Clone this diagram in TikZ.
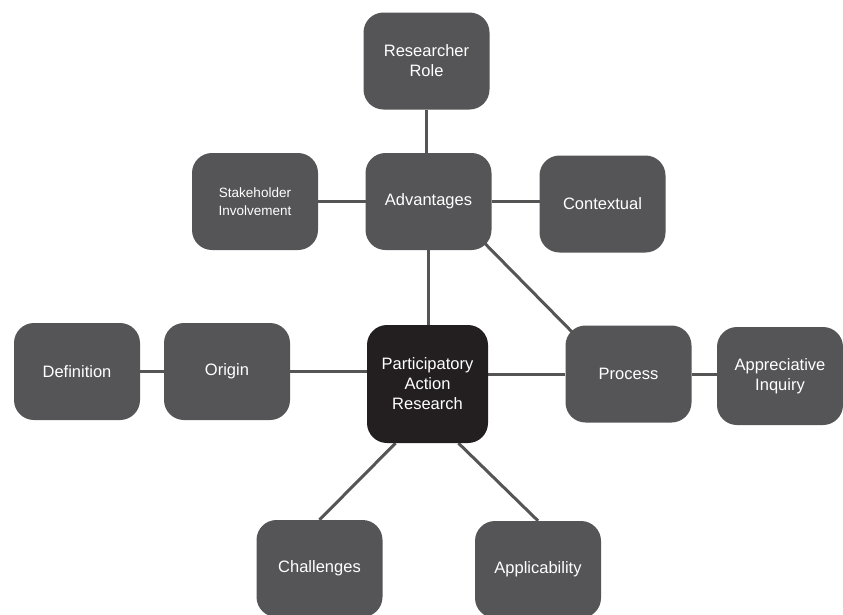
\documentclass[tikz,border=0pt]{standalone}
\usepackage{fontspec}
\setmainfont{Liberation Sans}
\usetikzlibrary{calc,backgrounds}
\definecolor{boxgray}{HTML}{555557}
\definecolor{parblack}{HTML}{231F20}
\definecolor{linegray}{HTML}{555555}
\begin{document}
\begin{tikzpicture}[x=1pt,y=-1pt,
  box/.style={rectangle, rounded corners=20pt, fill=boxgray, text=white, align=center,
    minimum width=126pt, minimum height=97pt, inner sep=0pt,
    font=\fontsize{16.5}{20}\selectfont},
  link/.style={draw=linegray, line width=3pt}]
\useasboundingbox (0,0) rectangle (843,614);
\node[box] (role) at (426.5,61) {Researcher\\Role};
\node[box] (adv) at (428.5,201.5) {Advantages};
\node[box, font=\fontsize{13.5}{18}\selectfont] (stake) at (255,201.5) {Stakeholder\\Involvement};
\node[box] (ctx) at (602.5,204) {Contextual};
\node[box, fill=parblack, minimum width=121pt, minimum height=118pt] (par) at (427.5,384) {Participatory\\Action\\Research};
\node[box] (def) at (77,371.5) {Definition};
\node[box] (orig) at (227,371.5) {Origin};
\node[box] (proc) at (628.5,374) {Process};
\node[box, minimum height=98pt] (appr) at (780,376) {Appreciative\\Inquiry};
\node[box] (chal) at (319.5,568.5) {Challenges};
\node[box] (appl) at (538,569.5) {Applicability};
\begin{scope}[on background layer]
\draw[link] (role) -- (role |- adv);
\draw[link] (adv) -- (adv |- par);
\draw[link] (stake) -- (stake -| adv);
\draw[link] (adv) -- (adv -| ctx);
\draw[link] ($(adv.south east)+(-12,-12)$) -- ($(proc.north west)+(12,12)$);
\draw[link] (def) -- (def -| orig);
\draw[link] (orig) -- (orig -| par);
\draw[link] (proc) -- (proc -| par);
\draw[link] (proc) -- (proc -| appr);
\draw[link] ($(par.south)+(-32,0)$) -- (chal.north);
\draw[link] ($(par.south)+(31,0)$) -- (appl.north);
\end{scope}
\end{tikzpicture}
\end{document}
